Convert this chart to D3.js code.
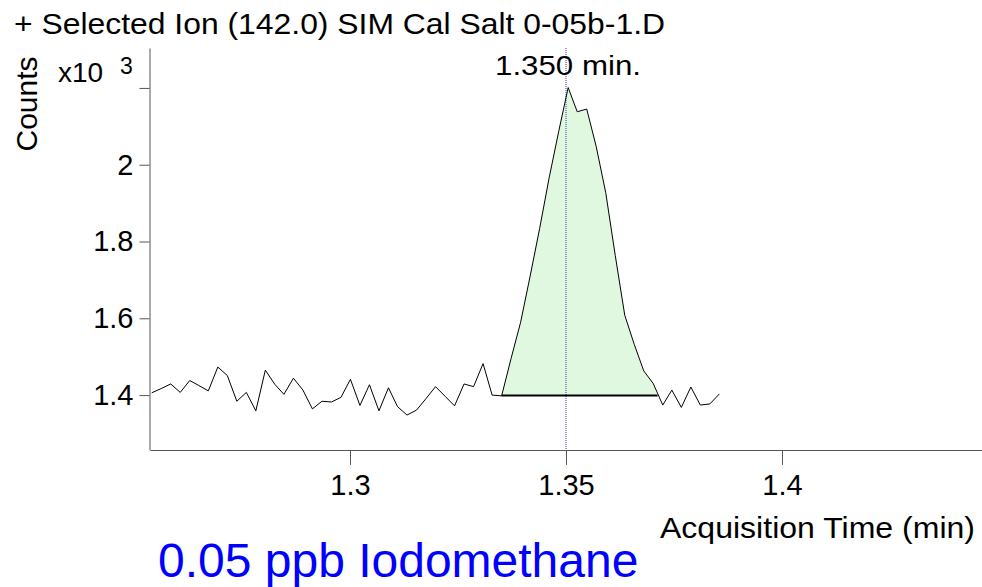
<!DOCTYPE html>
<html>
<head>
<meta charset="utf-8">
<script src="https://cdn.jsdelivr.net/npm/d3@7"></script>
<style>
  body { margin: 0; background: #fff; }
  svg text { font-family: "Liberation Sans", Arial, sans-serif; fill: #000; }
</style>
</head>
<body>
<div id="chart"></div>
<script>
// acquisition time (min) and counts of the SIM trace
const times = [
  1.2541, 1.2563, 1.2585, 1.2607, 1.2629, 1.2650, 1.2672, 1.2694, 1.2716, 1.2738,
  1.2760, 1.2782, 1.2804, 1.2826, 1.2847, 1.2869, 1.2891, 1.2913, 1.2935, 1.2957,
  1.2979, 1.3001, 1.3023, 1.3045, 1.3067, 1.3089, 1.3110, 1.3132, 1.3154, 1.3176,
  1.3198, 1.3220, 1.3242, 1.3264, 1.3286, 1.3308, 1.3329, 1.3351, 1.3373, 1.3395,
  1.3417, 1.3439, 1.3461, 1.3483, 1.3505, 1.3526, 1.3548, 1.3570, 1.3592, 1.3614,
  1.3636, 1.3658, 1.3680, 1.3702, 1.3724, 1.3745, 1.3767, 1.3789, 1.3811, 1.3833,
  1.3855
];
const counts = [
  1406, 1417, 1429, 1407, 1438, 1425, 1411, 1473, 1451, 1384,
  1407, 1359, 1465, 1428, 1402, 1444, 1413, 1364, 1384, 1382,
  1394, 1441, 1373, 1427, 1359, 1419, 1370, 1348, 1361, 1391,
  1422, 1397, 1372, 1429, 1422, 1482, 1400, 1398, 1496, 1590,
  1710, 1834, 1966, 2086, 2201, 2138, 2145, 2047, 1927, 1764,
  1608, 1532, 1463, 1430, 1374, 1413, 1368, 1421, 1374, 1377,
  1403
];

// integrated peak
const peakStart = 1.3351;
const peakEnd = 1.3712;
const peakBaseline = 1399;
const retentionTime = 1.350;

const xTicks = [1.3, 1.35, 1.4];
const xTickLabels = ['1.3', '1.35', '1.4'];
const yTicks = [1400, 1600, 1800, 2000, 2200];
const yTickLabels = ['1.4', '1.6', '1.8', '2', ''];

const titleText = '+ Selected Ion (142.0) SIM Cal Salt 0-05b-1.D';
const sampleText = '0.05 ppb Iodomethane';

const width = 982;
const height = 587;

const svg = d3.select('#chart')
  .append('svg')
  .attr('width', width)
  .attr('height', height);

const x = d3.scaleLinear().domain([1.2537, 1.4463]).range([150, 982]);
const y = d3.scaleLinear().domain([1257, 2304]).range([450, 48]);

const data = times.map((t, i) => [t, counts[i]]);

// shaded peak area
const peakPts = data.filter(d => d[0] >= peakStart && d[0] <= peakEnd);
peakPts.push([peakEnd, peakBaseline]);

svg.append('path')
  .datum(peakPts)
  .attr('fill', '#e0f8e0')
  .attr('d', d3.area()
    .x(d => x(d[0]))
    .y0(y(peakBaseline))
    .y1(d => y(d[1])));

// axes
const xAxis = d3.axisBottom(x)
  .tickValues(xTicks)
  .tickFormat((d, i) => xTickLabels[i])
  .tickSize(15)
  .tickPadding(9)
  .tickSizeOuter(0);

const yAxis = d3.axisLeft(y)
  .tickValues(yTicks)
  .tickFormat((d, i) => yTickLabels[i])
  .tickSize(10)
  .tickPadding(6)
  .tickSizeOuter(0);

const gx = svg.append('g')
  .attr('transform', 'translate(0, 450)')
  .call(xAxis);

const gy = svg.append('g')
  .attr('transform', 'translate(149.5, 0)')
  .call(yAxis);

[gx, gy].forEach(g => {
  g.select('.domain').attr('stroke', '#555');
  g.selectAll('.tick line').attr('stroke', '#555');
  g.selectAll('.tick text')
    .attr('font-size', 29)
    .attr('font-family', '"Liberation Sans", Arial, sans-serif')
    .attr('fill', '#000');
});

// retention time marker
svg.append('line')
  .attr('x1', x(retentionTime))
  .attr('x2', x(retentionTime))
  .attr('y1', 48)
  .attr('y2', 450)
  .attr('stroke', '#3a3aa8')
  .attr('stroke-width', 1)
  .attr('stroke-dasharray', '1,1');

// signal trace
svg.append('path')
  .datum(data)
  .attr('fill', 'none')
  .attr('stroke', '#000')
  .attr('stroke-width', 1)
  .attr('d', d3.line().x(d => x(d[0])).y(d => y(d[1])));

// integration baseline
svg.append('path')
  .datum([[peakStart, peakBaseline], [peakEnd, peakBaseline]])
  .attr('fill', 'none')
  .attr('stroke', '#000')
  .attr('stroke-width', 2)
  .attr('d', d3.line().x(d => x(d[0])).y(d => y(d[1])));

// labels
svg.append('text')
  .attr('x', 14)
  .attr('y', 34)
  .attr('font-size', 29)
  .attr('textLength', 651)
  .attr('lengthAdjust', 'spacingAndGlyphs')
  .text(titleText);

svg.append('text')
  .attr('transform', 'translate(37, 104) rotate(-90)')
  .attr('text-anchor', 'middle')
  .attr('font-size', 30)
  .text('Counts');

svg.append('text')
  .attr('x', 58)
  .attr('y', 82)
  .attr('font-size', 28)
  .text('x10');

svg.append('text')
  .attr('x', 120)
  .attr('y', 74)
  .attr('font-size', 23)
  .text('3');

svg.append('text')
  .attr('x', 495)
  .attr('y', 75)
  .attr('font-size', 28)
  .attr('textLength', 146)
  .attr('lengthAdjust', 'spacingAndGlyphs')
  .text(d3.format('.3f')(retentionTime) + ' min.');

svg.append('text')
  .attr('x', 975)
  .attr('y', 538)
  .attr('text-anchor', 'end')
  .attr('font-size', 29)
  .attr('textLength', 315)
  .attr('lengthAdjust', 'spacingAndGlyphs')
  .text('Acquisition Time (min)');

svg.append('text')
  .attr('x', 158)
  .attr('y', 577)
  .attr('font-size', 48)
  .style('fill', '#0000ff')
  .text(sampleText);
</script>
</body>
</html>
